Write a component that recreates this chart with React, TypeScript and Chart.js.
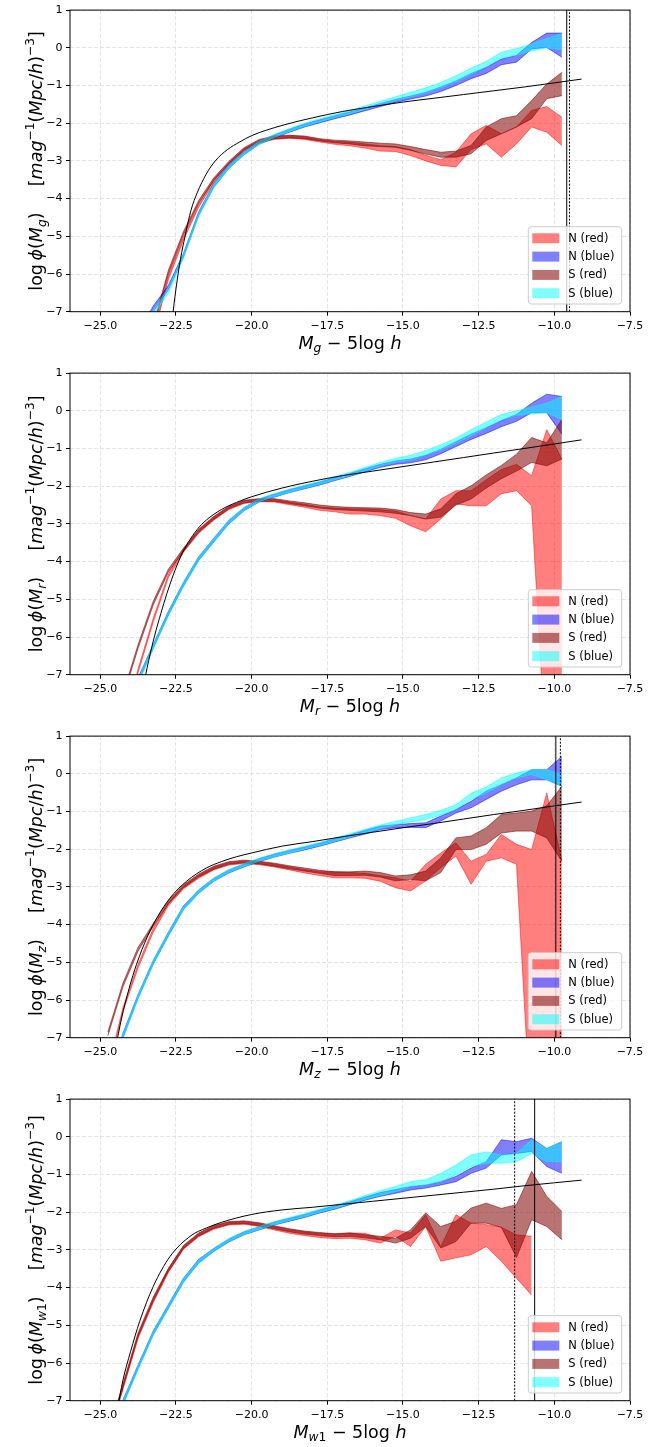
import React, { useEffect, useRef } from "react";
import { Chart, registerables } from "chart.js";
Chart.register(...registerables);

const FONT = "'DejaVu Sans', 'Liberation Sans', sans-serif";
const X_TICKS = [-25, -22.5, -20, -17.5, -15, -12.5, -10, -7.5];
const LEGEND_LABELS = ["N (red)", "N (blue)", "S (red)", "S (blue)"];
const C_NRED = "rgba(255,0,0,0.5)";
const C_NBLUE = "rgba(0,0,255,0.5)";
const C_SRED = "rgba(128,0,0,0.55)";
const C_SBLUE = "rgba(0,255,255,0.5)";

// ---------------- Panel 1 : g ----------------
const G_BINS = [-23.75, -23.25, -22.75, -22.25, -21.75, -21.25, -20.75, -20.25, -19.75, -19.25, -18.75, -18.25, -17.75, -17.25, -16.75, -16.25, -15.75, -15.25, -14.75, -14.25, -13.75, -13.25, -12.75, -12.25, -11.75, -11.25, -10.75, -10.25, -9.75];
const G_NRED_LO = [-8.6, -7.65, -6.15, -5.1, -4.23, -3.58, -3.12, -2.75, -2.53, -2.43, -2.4, -2.43, -2.5, -2.56, -2.6, -2.66, -2.74, -2.75, -2.86, -3.0, -3.12, -3.16, -2.7, -2.55, -2.9, -2.55, -2.1, -2.24, -2.59];
const G_NRED_HI = [-8.5, -7.55, -6.05, -5.0, -4.15, -3.5, -3.05, -2.68, -2.46, -2.36, -2.33, -2.36, -2.43, -2.48, -2.5, -2.55, -2.6, -2.62, -2.7, -2.85, -2.97, -2.77, -2.28, -2.06, -2.28, -2.1, -1.66, -1.56, -1.84];
const G_NBLUE_LO = [-7.7, -7.0, -6.42, -5.55, -4.45, -3.7, -3.2, -2.84, -2.56, -2.39, -2.24, -2.1, -1.99, -1.88, -1.78, -1.67, -1.56, -1.45, -1.36, -1.28, -1.16, -1.0, -0.82, -0.68, -0.45, -0.38, -0.03, 0.01, -0.25];
const G_NBLUE_HI = [-7.55, -6.85, -6.3, -5.45, -4.35, -3.6, -3.1, -2.76, -2.48, -2.31, -2.16, -2.02, -1.91, -1.8, -1.7, -1.59, -1.48, -1.37, -1.28, -1.18, -1.04, -0.88, -0.68, -0.52, -0.3, -0.2, 0.14, 0.39, 0.39];
const G_SRED_LO = [-8.4, -7.45, -6.0, -4.95, -4.12, -3.52, -3.08, -2.72, -2.5, -2.41, -2.39, -2.41, -2.47, -2.52, -2.55, -2.6, -2.62, -2.64, -2.72, -2.82, -2.9, -2.9, -2.81, -2.46, -2.28, -2.1, -1.88, -1.35, -1.27];
const G_SRED_HI = [-8.3, -7.35, -5.9, -4.87, -4.05, -3.45, -3.01, -2.65, -2.43, -2.34, -2.32, -2.34, -2.41, -2.45, -2.47, -2.5, -2.53, -2.55, -2.62, -2.7, -2.77, -2.74, -2.59, -2.1, -1.88, -1.8, -1.4, -0.96, -0.65];
const G_SBLUE_LO = [-7.9, -7.1, -6.5, -5.58, -4.47, -3.71, -3.2, -2.84, -2.56, -2.38, -2.22, -2.08, -1.96, -1.85, -1.75, -1.63, -1.5, -1.4, -1.3, -1.2, -1.06, -0.9, -0.7, -0.5, -0.28, -0.2, -0.08, 0.0, -0.05];
const G_SBLUE_HI = [-7.75, -6.97, -6.38, -5.48, -4.37, -3.61, -3.1, -2.76, -2.48, -2.3, -2.14, -2.0, -1.88, -1.77, -1.66, -1.54, -1.42, -1.3, -1.18, -1.06, -0.92, -0.74, -0.54, -0.36, -0.12, -0.02, 0.1, 0.25, 0.38];
const G_BLACK_X = [-22.64, -22.5, -22.35, -22.2, -22.0, -21.8, -21.5, -21.2, -20.8, -20.4, -20.0, -19.0, -18.0, -17.0, -16.0, -15.0, -14.0, -13.0, -12.0, -11.0, -10.0, -9.1];
const G_BLACK_Y = [-7.3, -6.4, -5.6, -5.0, -4.3, -3.85, -3.35, -3.0, -2.7, -2.5, -2.33, -2.06, -1.86, -1.69, -1.56, -1.44, -1.34, -1.24, -1.14, -1.04, -0.93, -0.83];
const G_VSOLID = [-9.59];
const G_VDOT = [-9.5];

// ---------------- Panel 2 : r ----------------
const R_BINS = [-24.25, -23.75, -23.25, -22.75, -22.25, -21.75, -21.25, -20.75, -20.25, -19.75, -19.25, -18.75, -18.25, -17.75, -17.25, -16.75, -16.25, -15.75, -15.25, -14.75, -14.25, -13.75, -13.25, -12.75, -12.25, -11.75, -11.25, -10.75, -10.25, -9.75];
const R_NRED_LO = [-8.6, -6.95, -5.6, -4.42, -3.75, -3.25, -2.9, -2.62, -2.46, -2.41, -2.42, -2.49, -2.56, -2.64, -2.68, -2.74, -2.74, -2.78, -2.85, -3.05, -3.21, -2.87, -2.47, -2.52, -2.52, -2.2, -2.12, -2.52, -9.5, -9.5];
const R_NRED_HI = [-8.5, -6.85, -5.5, -4.34, -3.67, -3.17, -2.82, -2.55, -2.39, -2.34, -2.35, -2.42, -2.48, -2.55, -2.58, -2.6, -2.6, -2.62, -2.66, -2.78, -2.87, -2.34, -2.12, -2.12, -1.83, -1.56, -1.42, -1.72, -0.5, -1.28];
const R_NBLUE_LO = [-8.2, -7.2, -6.3, -5.42, -4.65, -3.97, -3.48, -3.0, -2.65, -2.42, -2.29, -2.17, -2.07, -1.97, -1.85, -1.74, -1.62, -1.5, -1.42, -1.38, -1.3, -1.14, -0.95, -0.76, -0.6, -0.42, -0.28, -0.05, -0.05, -0.62];
const R_NBLUE_HI = [-8.05, -7.08, -6.2, -5.32, -4.55, -3.87, -3.38, -2.9, -2.57, -2.34, -2.21, -2.09, -1.99, -1.89, -1.77, -1.66, -1.54, -1.42, -1.33, -1.28, -1.18, -1.02, -0.82, -0.62, -0.45, -0.26, -0.1, 0.2, 0.44, 0.38];
const R_SRED_LO = [-7.6, -6.3, -5.15, -4.28, -3.72, -3.22, -2.88, -2.6, -2.44, -2.4, -2.4, -2.46, -2.52, -2.58, -2.62, -2.64, -2.66, -2.68, -2.72, -2.78, -2.87, -2.82, -2.5, -2.34, -2.05, -1.8, -1.6, -1.37, -1.46, -1.28];
const R_SRED_HI = [-7.5, -6.2, -5.05, -4.2, -3.64, -3.14, -2.8, -2.53, -2.37, -2.33, -2.33, -2.39, -2.44, -2.5, -2.54, -2.56, -2.57, -2.58, -2.62, -2.7, -2.74, -2.6, -2.2, -1.99, -1.7, -1.45, -1.15, -0.71, -0.85, -0.23];
const R_SBLUE_LO = [-8.25, -7.25, -6.32, -5.44, -4.66, -3.98, -3.48, -3.0, -2.64, -2.41, -2.28, -2.16, -2.05, -1.95, -1.83, -1.72, -1.6, -1.46, -1.36, -1.3, -1.18, -1.04, -0.86, -0.66, -0.45, -0.25, -0.12, -0.08, -0.05, -0.23];
const R_SBLUE_HI = [-8.1, -7.12, -6.22, -5.34, -4.56, -3.88, -3.38, -2.9, -2.56, -2.33, -2.2, -2.08, -1.97, -1.87, -1.74, -1.63, -1.5, -1.37, -1.26, -1.18, -1.05, -0.9, -0.72, -0.5, -0.3, -0.1, 0.0, 0.1, 0.2, 0.38];
const R_BLACK_X = [-23.6, -23.4, -23.2, -23.0, -22.8, -22.6, -22.35, -22.1, -21.8, -21.5, -21.0, -20.5, -20.0, -19.0, -18.0, -17.0, -16.0, -15.0, -14.0, -13.0, -12.0, -11.0, -10.0, -9.1];
const R_BLACK_Y = [-7.4, -6.62, -5.95, -5.38, -4.85, -4.38, -3.88, -3.5, -3.15, -2.9, -2.62, -2.43, -2.28, -2.05, -1.87, -1.72, -1.6, -1.48, -1.36, -1.24, -1.12, -1.0, -0.88, -0.77];
const R_VSOLID: number[] = [];
const R_VDOT: number[] = [];

// ---------------- Panel 3 : z ----------------
const Z_BINS = [-24.75, -24.25, -23.75, -23.25, -22.75, -22.25, -21.75, -21.25, -20.75, -20.25, -19.75, -19.25, -18.75, -18.25, -17.75, -17.25, -16.75, -16.25, -15.75, -15.25, -14.75, -14.25, -13.75, -13.25, -12.75, -12.25, -11.75, -11.25, -10.75, -10.25, -9.75];
const Z_NRED_LO = [-7.95, -6.3, -5.15, -4.2, -3.5, -3.05, -2.77, -2.55, -2.42, -2.38, -2.41, -2.47, -2.55, -2.63, -2.7, -2.76, -2.76, -2.77, -2.85, -3.02, -3.11, -2.84, -2.49, -2.18, -2.93, -2.32, -2.23, -2.4, -9.5, -9.5, -9.5];
const Z_NRED_HI = [-7.85, -6.2, -5.05, -4.1, -3.42, -2.97, -2.69, -2.47, -2.35, -2.31, -2.34, -2.39, -2.47, -2.54, -2.6, -2.6, -2.62, -2.64, -2.7, -2.76, -2.85, -2.4, -2.1, -1.83, -2.32, -2.14, -1.61, -1.87, -2.01, -0.51, -2.3];
const Z_NBLUE_LO = [-8.3, -7.0, -5.95, -5.05, -4.3, -3.6, -3.17, -2.85, -2.63, -2.47, -2.33, -2.21, -2.11, -2.02, -1.92, -1.81, -1.7, -1.6, -1.48, -1.43, -1.42, -1.43, -1.25, -1.04, -0.9, -0.68, -0.46, -0.29, -0.16, -0.16, -0.33];
const Z_NBLUE_HI = [-8.15, -6.88, -5.85, -4.95, -4.2, -3.5, -3.08, -2.77, -2.55, -2.39, -2.25, -2.13, -2.03, -1.94, -1.84, -1.72, -1.62, -1.5, -1.39, -1.35, -1.32, -1.3, -1.12, -0.95, -0.73, -0.46, -0.29, -0.11, 0.11, 0.11, 0.46];
const Z_SRED_LO = [-6.95, -5.65, -4.7, -4.05, -3.45, -3.02, -2.74, -2.53, -2.4, -2.36, -2.39, -2.45, -2.52, -2.58, -2.64, -2.7, -2.7, -2.69, -2.74, -2.84, -2.8, -2.84, -2.62, -2.01, -2.01, -1.87, -1.57, -1.52, -1.52, -1.7, -2.32];
const Z_SRED_HI = [-6.85, -5.55, -4.6, -3.97, -3.37, -2.94, -2.66, -2.45, -2.33, -2.29, -2.32, -2.37, -2.44, -2.5, -2.56, -2.6, -2.6, -2.58, -2.62, -2.71, -2.68, -2.58, -2.23, -1.7, -1.65, -1.43, -1.08, -1.04, -0.99, -0.85, -0.33];
const Z_SBLUE_LO = [-8.35, -7.03, -5.97, -5.06, -4.31, -3.61, -3.17, -2.85, -2.62, -2.46, -2.32, -2.2, -2.1, -2.0, -1.9, -1.79, -1.68, -1.57, -1.45, -1.35, -1.28, -1.21, -1.1, -0.95, -0.68, -0.51, -0.29, -0.11, -0.02, -0.16, -0.33];
const Z_SBLUE_HI = [-8.2, -6.91, -5.87, -4.96, -4.21, -3.51, -3.08, -2.77, -2.54, -2.38, -2.24, -2.12, -2.02, -1.92, -1.82, -1.7, -1.59, -1.47, -1.36, -1.26, -1.17, -1.08, -0.97, -0.82, -0.51, -0.35, -0.11, 0.02, 0.11, 0.11, -0.02];
const Z_BLACK_X = [-24.5, -24.3, -24.05, -23.8, -23.45, -23.1, -22.7, -22.15, -21.5, -21.0, -20.5, -20.0, -19.0, -18.0, -17.0, -16.0, -15.0, -14.0, -13.0, -12.0, -11.0, -10.0, -9.1];
const Z_BLACK_Y = [-7.3, -6.5, -5.7, -5.05, -4.33, -3.78, -3.3, -2.85, -2.5, -2.33, -2.2, -2.1, -1.92, -1.8, -1.67, -1.55, -1.43, -1.32, -1.2, -1.08, -0.97, -0.85, -0.75];
const Z_VSOLID = [-9.95];
const Z_VDOT = [-9.8];

// ---------------- Panel 4 : w1 ----------------
const W_BINS = [-24.75, -24.25, -23.75, -23.25, -22.75, -22.25, -21.75, -21.25, -20.75, -20.25, -19.75, -19.25, -18.75, -18.25, -17.75, -17.25, -16.75, -16.25, -15.75, -15.25, -14.75, -14.25, -13.75, -13.25, -12.75, -12.25, -11.75, -11.25, -10.75, -10.25, -9.75];
const W_NRED_LO = [-8.05, -6.7, -5.35, -4.4, -3.6, -2.98, -2.65, -2.45, -2.34, -2.32, -2.38, -2.47, -2.56, -2.62, -2.67, -2.7, -2.69, -2.73, -2.82, -2.64, -2.91, -2.38, -3.3, -3.21, -3.13, -2.91, -3.3, -3.75, -4.2, null, null];
const W_NRED_HI = [-7.95, -6.6, -5.25, -4.3, -3.5, -2.9, -2.57, -2.37, -2.26, -2.25, -2.3, -2.38, -2.46, -2.52, -2.56, -2.58, -2.55, -2.56, -2.69, -2.47, -2.55, -2.07, -2.91, -2.07, -2.29, -2.33, -2.4, -2.6, -2.64, null, null];
const W_NBLUE_LO = [-8.2, -7.1, -6.15, -5.25, -4.55, -3.85, -3.35, -3.04, -2.79, -2.6, -2.47, -2.34, -2.24, -2.14, -2.02, -1.92, -1.8, -1.68, -1.58, -1.5, -1.41, -1.36, -1.28, -1.19, -0.97, -0.83, -0.48, -0.44, -0.39, -0.79, -0.97];
const W_NBLUE_HI = [-8.05, -6.98, -6.05, -5.15, -4.45, -3.75, -3.25, -2.96, -2.71, -2.52, -2.39, -2.26, -2.16, -2.06, -1.94, -1.83, -1.72, -1.6, -1.48, -1.4, -1.32, -1.28, -1.19, -1.05, -0.83, -0.66, -0.08, -0.13, -0.04, -0.31, -0.13];
const W_SRED_LO = [-8.0, -6.65, -5.3, -4.35, -3.57, -2.96, -2.63, -2.43, -2.32, -2.3, -2.36, -2.44, -2.52, -2.58, -2.62, -2.65, -2.64, -2.68, -2.73, -2.82, -2.69, -2.38, -2.95, -2.78, -2.29, -2.29, -2.4, -3.2, -2.2, -2.38, -2.73];
const W_SRED_HI = [-7.9, -6.55, -5.2, -4.25, -3.49, -2.88, -2.55, -2.35, -2.25, -2.23, -2.28, -2.36, -2.44, -2.5, -2.54, -2.57, -2.55, -2.6, -2.64, -2.69, -2.47, -2.02, -2.38, -2.24, -1.89, -1.76, -1.9, -1.8, -0.92, -1.58, -1.98];
const W_SBLUE_LO = [-8.25, -7.12, -6.17, -5.27, -4.56, -3.86, -3.36, -3.04, -2.78, -2.59, -2.46, -2.33, -2.22, -2.12, -2.0, -1.9, -1.78, -1.66, -1.55, -1.45, -1.32, -1.28, -1.19, -1.01, -0.79, -0.7, -0.7, -0.66, -0.44, -0.66, -0.66];
const W_SBLUE_HI = [-8.1, -7.0, -6.07, -5.17, -4.46, -3.76, -3.26, -2.96, -2.7, -2.51, -2.38, -2.25, -2.14, -2.04, -1.92, -1.81, -1.69, -1.56, -1.43, -1.32, -1.19, -1.14, -0.97, -0.75, -0.48, -0.4, -0.48, -0.44, -0.08, -0.31, -0.13];
const W_BLACK_X = [-24.45, -24.25, -24.0, -23.7, -23.25, -22.7, -22.0, -21.5, -21.0, -20.0, -19.0, -18.0, -17.0, -16.0, -15.0, -14.0, -13.0, -12.0, -11.0, -10.0, -9.1];
const W_BLACK_Y = [-7.3, -6.45, -5.7, -4.9, -3.97, -3.18, -2.62, -2.42, -2.27, -2.06, -1.94, -1.87, -1.79, -1.71, -1.63, -1.55, -1.47, -1.39, -1.3, -1.22, -1.15];
const W_VSOLID = [-10.65];
const W_VDOT = [-11.31];

type Run = { t: string; it?: boolean; sub?: boolean; sup?: boolean };

const PANELS = [
  { bins: G_BINS, nRed: [G_NRED_LO, G_NRED_HI], nBlue: [G_NBLUE_LO, G_NBLUE_HI], sRed: [G_SRED_LO, G_SRED_HI], sBlue: [G_SBLUE_LO, G_SBLUE_HI], bx: G_BLACK_X, by: G_BLACK_Y, vs: G_VSOLID, vd: G_VDOT, band: [{ t: "g", it: true, sub: true }] as Run[] },
  { bins: R_BINS, nRed: [R_NRED_LO, R_NRED_HI], nBlue: [R_NBLUE_LO, R_NBLUE_HI], sRed: [R_SRED_LO, R_SRED_HI], sBlue: [R_SBLUE_LO, R_SBLUE_HI], bx: R_BLACK_X, by: R_BLACK_Y, vs: R_VSOLID, vd: R_VDOT, band: [{ t: "r", it: true, sub: true }] as Run[] },
  { bins: Z_BINS, nRed: [Z_NRED_LO, Z_NRED_HI], nBlue: [Z_NBLUE_LO, Z_NBLUE_HI], sRed: [Z_SRED_LO, Z_SRED_HI], sBlue: [Z_SBLUE_LO, Z_SBLUE_HI], bx: Z_BLACK_X, by: Z_BLACK_Y, vs: Z_VSOLID, vd: Z_VDOT, band: [{ t: "z", it: true, sub: true }] as Run[] },
  { bins: W_BINS, nRed: [W_NRED_LO, W_NRED_HI], nBlue: [W_NBLUE_LO, W_NBLUE_HI], sRed: [W_SRED_LO, W_SRED_HI], sBlue: [W_SBLUE_LO, W_SBLUE_HI], bx: W_BLACK_X, by: W_BLACK_Y, vs: W_VSOLID, vd: W_VDOT, band: [{ t: "w", it: true, sub: true }, { t: "1", sub: true }] as Run[] },
];

const PANEL_H = 363;

function pts(xs: number[], ys: (number | null)[]) {
  const out: { x: number; y: number }[] = [];
  xs.forEach((x, i) => {
    const y = ys[i];
    if (y !== null && y !== undefined) out.push({ x, y });
  });
  return out;
}

function bandSets(xs: number[], lo: any[], hi: any[], color: string, order: number) {
  return [
    { data: pts(xs, hi), borderColor: color, backgroundColor: color, borderWidth: 1, fill: "+1", pointRadius: 0, order, tension: 0 },
    { data: pts(xs, lo), borderColor: color, backgroundColor: "transparent", borderWidth: 1, fill: false, pointRadius: 0, order, tension: 0 },
  ];
}

function drawRuns(ctx: CanvasRenderingContext2D, runs: Run[], size: number, cx: number, baseline: number) {
  const fontFor = (r: Run) => `${r.it ? "italic " : ""}${r.sub || r.sup ? size * 0.7 : size}px ${FONT}`;
  let total = 0;
  const widths = runs.map((r) => {
    ctx.font = fontFor(r);
    const w = ctx.measureText(r.t).width;
    total += w;
    return w;
  });
  let x = cx - total / 2;
  ctx.textAlign = "left";
  ctx.textBaseline = "alphabetic";
  ctx.fillStyle = "#000";
  runs.forEach((r, i) => {
    ctx.font = fontFor(r);
    const dy = r.sub ? size * 0.22 : r.sup ? -size * 0.42 : 0;
    ctx.fillText(r.t, x, baseline + dy);
    x += widths[i];
  });
}

const fmt = (v: number, d: number) => (v < 0 ? "\u2212" : "") + Math.abs(v).toFixed(d);

function Panel({ p, top }: { p: (typeof PANELS)[number]; top: number }) {
  const ref = useRef<HTMLCanvasElement>(null);
  useEffect(() => {
    const datasets: any[] = [
      ...bandSets(p.bins, p.nRed[0], p.nRed[1], C_NRED, 50),
      ...bandSets(p.bins, p.nBlue[0], p.nBlue[1], C_NBLUE, 40),
      ...bandSets(p.bins, p.sRed[0], p.sRed[1], C_SRED, 30),
      ...bandSets(p.bins, p.sBlue[0], p.sBlue[1], C_SBLUE, 20),
      { data: pts(p.bx, p.by), borderColor: "#000", borderWidth: 1, fill: false, pointRadius: 0, order: 10, cubicInterpolationMode: "monotone" },
    ];
    p.vs.forEach((v) => datasets.push({ data: [{ x: v, y: -7 }, { x: v, y: 1 }], borderColor: "#000", borderWidth: 1, fill: false, pointRadius: 0, order: 5 }));
    p.vd.forEach((v) => datasets.push({ data: [{ x: v, y: -7 }, { x: v, y: 1 }], borderColor: "#000", borderWidth: 1, borderDash: [2, 1.5], fill: false, pointRadius: 0, order: 5 }));

    const colors = [C_NRED, C_NBLUE, C_SRED, C_SBLUE];
    const decor = {
      id: "decor",
      afterDraw(chart: any) {
        const ctx: CanvasRenderingContext2D = chart.ctx;
        const ca = chart.chartArea;
        ctx.save();
        ctx.strokeStyle = "#000";
        ctx.lineWidth = 1;
        ctx.strokeRect(ca.left, ca.top, ca.right - ca.left, ca.bottom - ca.top);
        drawRuns(ctx, [{ t: "M", it: true }, ...p.band, { t: " \u2212 5log " }, { t: "h", it: true }], 17.5, (ca.left + ca.right) / 2, ca.bottom + 36.8);
        ctx.save();
        ctx.translate(41.7, (ca.top + ca.bottom) / 2);
        ctx.rotate(-Math.PI / 2);
        drawRuns(
          ctx,
          [
            { t: "log\u2009" },
            { t: "\u03d5", it: true },
            { t: "(" },
            { t: "M", it: true },
            ...p.band,
            { t: ")" },
            { t: "\u2003\u2002" },
            { t: "[" },
            { t: "mag", it: true },
            { t: "\u22121", sup: true },
            { t: "(" },
            { t: "Mpc", it: true },
            { t: "/" },
            { t: "h", it: true },
            { t: ")" },
            { t: "\u22123", sup: true },
            { t: "]" },
          ],
          17.5,
          0,
          0
        );
        ctx.restore();
        const w = 93.4, h = 77.3;
        const bx = ca.right - 8.3 - w;
        const by = ca.bottom - 7.7 - h;
        ctx.beginPath();
        (ctx as any).roundRect(bx, by, w, h, 3);
        ctx.fillStyle = "rgba(255,255,255,0.8)";
        ctx.fill();
        ctx.strokeStyle = "#cccccc";
        ctx.lineWidth = 1;
        ctx.stroke();
        LEGEND_LABELS.forEach((lab, i) => {
          const cy = by + 11.6 + i * 18.3;
          ctx.fillStyle = colors[i];
          ctx.fillRect(bx + 4, cy - 5, 27, 10);
          ctx.fillStyle = "#000";
          ctx.font = `11.5px ${FONT}`;
          ctx.textAlign = "left";
          ctx.textBaseline = "middle";
          ctx.fillText(lab, bx + 40, cy + 0.5);
        });
        ctx.restore();
      },
    };

    const gridCommon = { color: "#dedede", lineWidth: 0.8, tickColor: "#000", tickLength: 4, tickWidth: 1 };
    const chart = new Chart(ref.current as HTMLCanvasElement, {
      type: "line",
      data: { datasets },
      options: {
        animation: false,
        responsive: false,
        devicePixelRatio: 1,
        layout: { padding: { left: 0, right: 37, top: 9.3, bottom: 0 } },
        plugins: { legend: { display: false }, tooltip: { enabled: false } },
        elements: { line: { tension: 0 } },
        scales: {
          x: {
            type: "linear",
            min: -26,
            max: -7.5,
            afterBuildTicks: (s: any) => {
              s.ticks = X_TICKS.map((v) => ({ value: v }));
            },
            afterFit: (s: any) => {
              s.height = PANEL_H - 311.7;
            },
            ticks: { autoSkip: false, maxRotation: 0, padding: 4, color: "#000", font: { family: FONT, size: 11 }, callback: (v: any) => fmt(Number(v), 1) },
            grid: gridCommon,
            border: { display: false, dash: [4, 2] },
          },
          y: {
            type: "linear",
            min: -7,
            max: 1,
            afterFit: (s: any) => {
              s.width = 70;
            },
            ticks: { stepSize: 1, padding: 3.5, color: "#000", font: { family: FONT, size: 11 }, callback: (v: any) => fmt(Number(v), 0) },
            grid: gridCommon,
            border: { display: false, dash: [4, 2] },
          },
        },
      } as any,
      plugins: [decor],
    });
    return () => chart.destroy();
  }, []);
  return <canvas ref={ref} width={667} height={PANEL_H} style={{ position: "absolute", left: 0, top, display: "block" }} />;
}

export default function App() {
  return (
    <div style={{ position: "absolute", left: 0, top: 0, width: 667, height: 1447, overflow: "hidden", background: "#fff" }}>
      {PANELS.map((p, k) => (
        <Panel key={k} p={p} top={k * PANEL_H} />
      ))}
    </div>
  );
}
